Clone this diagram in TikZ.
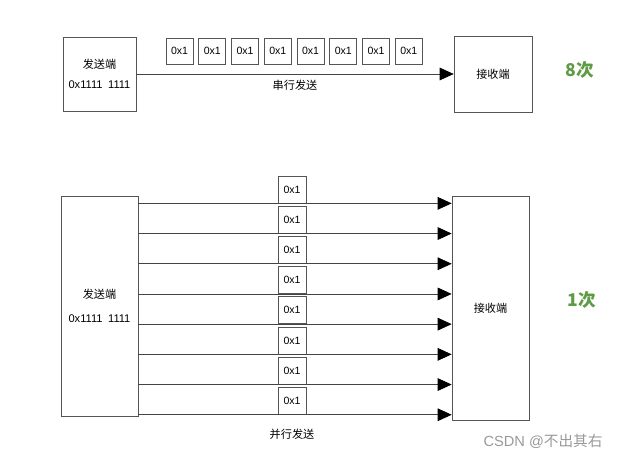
\documentclass[tikz,border=0pt]{standalone}
\usepackage{fontspec}
\setmainfont{Liberation Sans}
\newfontfamily\cjk{Noto Sans CJK SC}
\usepackage{tikz}
\usepackage{xcolor}
\usetikzlibrary{positioning, arrows.meta}

\definecolor{boxgray}{HTML}{555555}
\definecolor{wiregray}{HTML}{444444}
\definecolor{countgreen}{HTML}{5E9B45}

\tikzset{
  endbox/.style={draw=boxgray, line width=0.6pt, rectangle, align=center, font=\fontsize{9.5}{11}\selectfont},
  bytebox/.style={draw=boxgray, line width=0.6pt, rectangle, minimum width=0.81cm, minimum height=0.78cm, inner sep=0pt, font=\fontsize{9}{10}\selectfont},
  wire/.style={draw=wiregray, line width=0.6pt, -{Triangle[length=0.42cm, width=0.38cm, color=black]}},
  count/.style={text=countgreen, font=\fontsize{15}{18}\bfseries\cjk},
  txt/.style={font=\fontsize{9.5}{11}\selectfont\cjk}
}

\begin{document}
\begin{tikzpicture}[x=0.03cm, y=-0.03cm]
\useasboundingbox (0,0) rectangle (627,460);

% serial: one wire, eight bytes in a row
\node[endbox, minimum width=2.19cm, minimum height=2.22cm] (SendA) at (99.5,74) {{\cjk 发送端}\\[6.5pt]0x1111\hspace{0.5em}1111};
\node[endbox, minimum width=2.34cm, minimum height=2.28cm] (RecvA) at (493,74) {\cjk 接收端};
\foreach \i in {0,...,7}
  \node[bytebox] (a\i) at ({179.5+32.75*\i},51) {0x1};
\draw[wire] (SendA) -- node[txt, below=2pt] (ser) {串行发送} (RecvA);
\node[count] (cntA) at (580,70) {8次};

% parallel: eight wires, one byte each
\node[endbox, minimum width=2.31cm, minimum height=6.6cm] (SendB) at (99.5,306) {{\cjk 发送端}\\[9pt]0x1111\hspace{0.5em}1111};
\node[endbox, minimum width=2.31cm, minimum height=6.72cm] (RecvB) at (490.5,308) {\cjk 接收端};
\foreach \i in {0,...,7} {
  \node[bytebox, minimum width=0.84cm, minimum height=0.81cm] (b\i) at (292,{189.5+30.2*\i}) {0x1};
  \draw[wire] (SendB.east |- b\i.south) -- (RecvB.west |- b\i.south);
}
\node[txt, below=0.3cm of b7] (par) {并行发送};
\node[count] (cntB) at (582,300) {1次};

\node[text=gray!80, font=\fontsize{12.5}{14}\selectfont] (mark) at (543,441) {CSDN @{\cjk 不出其右}};
\end{tikzpicture}
\end{document}
